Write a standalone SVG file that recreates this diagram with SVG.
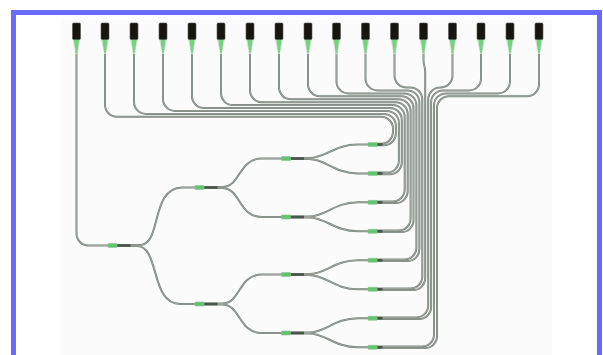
<svg xmlns="http://www.w3.org/2000/svg" width="603" height="355" viewBox="0 0 603 355">
<style>
.sp{fill:#62c66e;stroke:#8fbf95;stroke-width:.6}
.dk{fill:#4a554c}
.cb{fill:#17150f;stroke:#55574f;stroke-width:.6}
.co{fill:#d5dbd5}
.cg{fill:#6fd67c}
.f path{fill:none}
</style>
<defs>
<g id="plug"><path class="co" d="M-4,16 H4 L0.9,31 H-0.9 Z"/><path class="cg" d="M-2.6,16 H2.6 L0.7,30 H-0.7 Z"/><rect class="cb" x="-4" y="0" width="8" height="16.5" rx="1.2"/></g>
<g id="spl"><rect class="dk" x="4" y="-1.3" width="14" height="2.6"/><rect class="sp" x="-4.5" y="-2" width="9" height="4" rx=".5"/></g>
<g id="leaf"><rect class="dk" x="4" y="-1.3" width="6" height="2.6"/><rect class="sp" x="-4.5" y="-2" width="9" height="4" rx=".5"/></g>
</defs>
<rect width="603" height="355" fill="#fff"/>
<rect x="61" y="20" width="491" height="335" fill="#fbfbfb"/>
<g stroke="#77817a" stroke-width="2" fill="none">
<g id="connectors" class="f">
<path d="M76.5,52V233.5A12 12 0 0 0 88.5,245.5H112"/>
<path d="M117,245H140C162,245 150,188 182,187.5H199"/>
<path d="M117,246H137C160,246 150,304 180,304H199"/>
<path d="M204,187H222C241,187 238,158.5 262,158.5H286"/>
<path d="M204,188H222C241,188 238,217 262,217H286"/>
<path d="M204,303.5H222C241,303.5 238,274.5 262,274.5H286"/>
<path d="M204,304.5H222C241,304.5 238,333 262,333H286"/>
<path d="M290,158H309C326,158 334,144.5 358,144.5H372"/>
<path d="M290,159H309C326,159 334,173.4 358,173.4H372"/>
<path d="M290,216.5H309C326,216.5 334,202.3 358,202.3H372"/>
<path d="M290,217.5H309C326,217.5 334,231.3 358,231.3H372"/>
<path d="M290,274H309C326,274 334,260.3 358,260.3H372"/>
<path d="M290,275H309C326,275 334,289.3 358,289.3H372"/>
<path d="M290,332.5H309C326,332.5 334,318.2 358,318.2H372"/>
<path d="M290,333.5H309C326,333.5 334,347.3 358,347.3H372"/>
<path d="M376,143.7H381A12 12 0 0 0 393,131.7V128.8A12 12 0 0 0 381,116.8H117A12 12 0 0 1 105,104.8V52"/>
<path d="M376,145.3H383.9A12 12 0 0 0 395.9,133.3V125.9A12 12 0 0 0 383.9,113.9H146A12 12 0 0 1 134,101.9V52"/>
<path d="M376,172.6H386.9A12 12 0 0 0 398.9,160.6V122.9A12 12 0 0 0 386.9,110.9H175A12 12 0 0 1 163,98.9V52"/>
<path d="M376,174.2H389.8A12 12 0 0 0 401.8,162.2V120A12 12 0 0 0 389.8,108H204A12 12 0 0 1 192,96V52"/>
<path d="M376,201.5H392.7A12 12 0 0 0 404.7,189.5V117.1A12 12 0 0 0 392.7,105.1H233A12 12 0 0 1 221,93.1V52"/>
<path d="M376,203.1H395.7A12 12 0 0 0 407.7,191.1V114.2A12 12 0 0 0 395.7,102.2H262A12 12 0 0 1 250,90.2V52"/>
<path d="M376,230.5H398.6A12 12 0 0 0 410.6,218.5V111.2A12 12 0 0 0 398.6,99.2H291A12 12 0 0 1 279,87.2V52"/>
<path d="M376,232.1H401.5A12 12 0 0 0 413.5,220.1V108.3A12 12 0 0 0 401.5,96.3H320A12 12 0 0 1 308,84.3V52"/>
<path d="M376,259.5H404.4A12 12 0 0 0 416.4,247.5V105.4A12 12 0 0 0 404.4,93.4H348.5A12 12 0 0 1 336.5,81.4V52"/>
<path d="M376,261.1H407.4A12 12 0 0 0 419.4,249.1V102.4A12 12 0 0 0 407.4,90.4H377.5A12 12 0 0 1 365.5,78.4V52"/>
<path d="M376,288.5H410.3A12 12 0 0 0 422.3,276.5V99.5A12 12 0 0 0 410.3,87.5H406.5A12 12 0 0 1 394.5,75.5V52"/>
<path d="M376,290.1H413.2A12 12 0 0 0 425.2,278.1V72C425.2,66 423.5,66 423.5,60V52"/>
<path d="M376,317.4H416.2A12 12 0 0 0 428.2,305.4V99.5A12 12 0 0 1 440.2,87.5H440.5A12 12 0 0 0 452.5,75.5V52"/>
<path d="M376,319H419.1A12 12 0 0 0 431.1,307V102.4A12 12 0 0 1 443.1,90.4H469A12 12 0 0 0 481,78.4V52"/>
<path d="M376,346.5H422A12 12 0 0 0 434,334.5V105.4A12 12 0 0 1 446,93.4H498A12 12 0 0 0 510,81.4V52"/>
<path d="M376,348.1H425A12 12 0 0 0 437,336.1V108.3A12 12 0 0 1 449,96.3H527A12 12 0 0 0 539,84.3V52"/>
</g>
</g>
<use href="#connectors" stroke="#b4bbb4" stroke-width=".6" fill="none"/>
<g id="port-1"><use href="#plug" x="76.5" y="23"/></g>
<g id="port-2"><use href="#plug" x="105" y="23"/></g>
<g id="port-3"><use href="#plug" x="134" y="23"/></g>
<g id="port-4"><use href="#plug" x="163" y="23"/></g>
<g id="port-5"><use href="#plug" x="192" y="23"/></g>
<g id="port-6"><use href="#plug" x="221" y="23"/></g>
<g id="port-7"><use href="#plug" x="250" y="23"/></g>
<g id="port-8"><use href="#plug" x="279" y="23"/></g>
<g id="port-9"><use href="#plug" x="308" y="23"/></g>
<g id="port-10"><use href="#plug" x="336.5" y="23"/></g>
<g id="port-11"><use href="#plug" x="365.5" y="23"/></g>
<g id="port-12"><use href="#plug" x="394.5" y="23"/></g>
<g id="port-13"><use href="#plug" x="423.5" y="23"/></g>
<g id="port-14"><use href="#plug" x="452.5" y="23"/></g>
<g id="port-15"><use href="#plug" x="481" y="23"/></g>
<g id="port-16"><use href="#plug" x="510" y="23"/></g>
<g id="port-17"><use href="#plug" x="539" y="23"/></g>
<g id="splitter-root"><use href="#spl" x="112.5" y="245.5"/></g>
<g id="splitter-2a"><use href="#spl" x="199.5" y="187.5"/></g>
<g id="splitter-2b"><use href="#spl" x="199.5" y="304"/></g>
<g id="splitter-3a"><use href="#spl" x="286" y="158.5"/></g>
<g id="splitter-3b"><use href="#spl" x="286" y="217"/></g>
<g id="splitter-3c"><use href="#spl" x="286" y="274.5"/></g>
<g id="splitter-3d"><use href="#spl" x="286" y="333"/></g>
<g id="splitter-4a"><use href="#leaf" x="372.5" y="144.5"/></g>
<g id="splitter-4b"><use href="#leaf" x="372.5" y="173.4"/></g>
<g id="splitter-4c"><use href="#leaf" x="372.5" y="202.3"/></g>
<g id="splitter-4d"><use href="#leaf" x="372.5" y="231.3"/></g>
<g id="splitter-4e"><use href="#leaf" x="372.5" y="260.3"/></g>
<g id="splitter-4f"><use href="#leaf" x="372.5" y="289.3"/></g>
<g id="splitter-4g"><use href="#leaf" x="372.5" y="318.2"/></g>
<g id="splitter-4h"><use href="#leaf" x="372.5" y="347.3"/></g>
<rect x="13.5" y="12.5" width="586" height="360" fill="none" stroke="#6a6aff" stroke-width="5"/>
</svg>
